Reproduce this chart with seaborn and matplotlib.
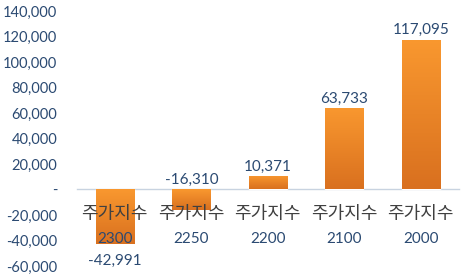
import matplotlib
matplotlib.use("Agg")
import matplotlib.pyplot as plt
import seaborn as sns
import numpy as np
import pandas as pd
from matplotlib.colors import LinearSegmentedColormap

categories = ["주가지수\n2300", "주가지수\n2250", "주가지수\n2200", "주가지수\n2100", "주가지수\n2000"]
values = [-42991, -16310, 10371, 63733, 117095]
y_ticks = [-60000, -40000, -20000, 0, 20000, 40000, 60000, 80000, 100000, 120000, 140000]

sns.set_theme(style="white")
plt.rcParams['font.family'] = ['Lato', 'Noto Sans CJK KR', 'DejaVu Sans']

text_blue = "#2B4A72"
fig = plt.figure(figsize=(4.67, 2.80), dpi=100)
ax = fig.add_axes([0.164, 0.05, 0.819, 0.911])

df = pd.DataFrame({"cat": categories, "val": values})
sns.barplot(data=df, x="cat", y="val", color="#F28C2B", width=0.5, ax=ax, saturation=1)

cmap = LinearSegmentedColormap.from_list("g", ["#F9982F", "#D9701F"])
grad = np.linspace(0, 1, 256).reshape(-1, 1)
for p in ax.patches:
    p.set_zorder(1.2)
    x0, y0 = p.get_x(), p.get_y()
    w, h = p.get_width(), p.get_height()
    ylo, yhi = min(y0, y0 + h), max(y0, y0 + h)
    im = ax.imshow(grad, cmap=cmap, aspect="auto", extent=(x0, x0 + w, ylo, yhi),
                   origin="upper", zorder=1.3)
    im.set_clip_path(p)
ax.set_xlim(-0.5, len(categories) - 0.5)
ax.set_ylim(y_ticks[0], y_ticks[-1])
ax.set_yticks(y_ticks)
ax.set_yticklabels(["-" if v == 0 else f"{v:,}" for v in y_ticks], fontsize=10.5, color=text_blue)

for sp in ["top", "right", "left"]:
    ax.spines[sp].set_visible(False)
ax.spines["bottom"].set_position(("data", 0))
ax.spines["bottom"].set_color("#C8D3E0")
ax.spines["bottom"].set_linewidth(1)
ax.spines["bottom"].set_zorder(1)
ax.tick_params(axis="x", length=0)
ax.tick_params(axis="y", length=0, pad=14)
ax.set_xticks(range(len(categories)))
ax.set_xticklabels([])
ax.set_xlabel("")
ax.set_ylabel("")

for i, c in enumerate(categories):
    top, bottom = c.split("\n")
    ax.annotate(top, (i, 0), xytext=(0, -17.5), textcoords="offset points",
                ha="center", va="center", fontsize=13, color="#404040", zorder=5,
                family=['Noto Sans CJK KR'])
    ax.annotate(bottom, (i, 0), xytext=(0, -35.5), textcoords="offset points",
                ha="center", va="center", fontsize=11, color=text_blue, zorder=5)

for i, v in enumerate(values):
    if v >= 0 or v > -30000:
        ax.annotate(f"{v:,}", (i, max(v, 0)), xytext=(0, 2), textcoords="offset points",
                    ha="center", va="bottom", fontsize=11, color=text_blue, zorder=5)
    else:
        ax.annotate(f"{v:,}", (i, v), xytext=(0, -7), textcoords="offset points",
                    ha="center", va="top", fontsize=11, color=text_blue, zorder=5)

fig.savefig("out.png", dpi=100)
